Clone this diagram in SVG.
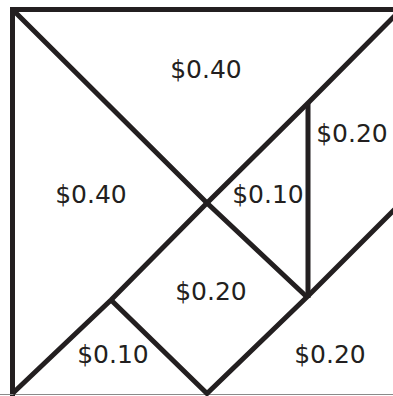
<svg xmlns="http://www.w3.org/2000/svg" width="393" height="396" viewBox="0 0 393 396">
<style>
.e{fill:none;stroke:#231f20;stroke-width:5;stroke-linejoin:miter;stroke-linecap:butt}
.t{font-family:"DejaVu Sans",sans-serif;font-size:25px;fill:#231f20;text-anchor:middle}
</style>
<rect width="393" height="396" fill="#fff"/>
<g id="connectors">
<path class="e" d="M10,9.5 H400 M12.5,7 V396"/>
<line x1="0" y1="394.5" x2="393" y2="394.5" stroke="#8a8a8a" stroke-width="1.2"/>
<path class="e" d="M12.5,9.5 L207,203 L308,298"/>
<path class="e" d="M12.5,393.5 L111,300 L207,203 L308,103 L401,9.5"/>
<path class="e" d="M111,300 L207,393.5 L308,296 L400,204"/>
<path class="e" d="M308,103 V298"/>
</g>
<g id="big-top"><text class="t" x="206" y="78">$0.40</text></g>
<g id="big-left"><text class="t" x="91" y="203">$0.40</text></g>
<g id="parallelogram"><text class="t" x="352" y="142">$0.20</text></g>
<g id="small-mid"><text class="t" x="268" y="203">$0.10</text></g>
<g id="square"><text class="t" x="211" y="300">$0.20</text></g>
<g id="small-bottom"><text class="t" x="113" y="363">$0.10</text></g>
<g id="medium"><text class="t" x="330" y="363">$0.20</text></g>
</svg>
